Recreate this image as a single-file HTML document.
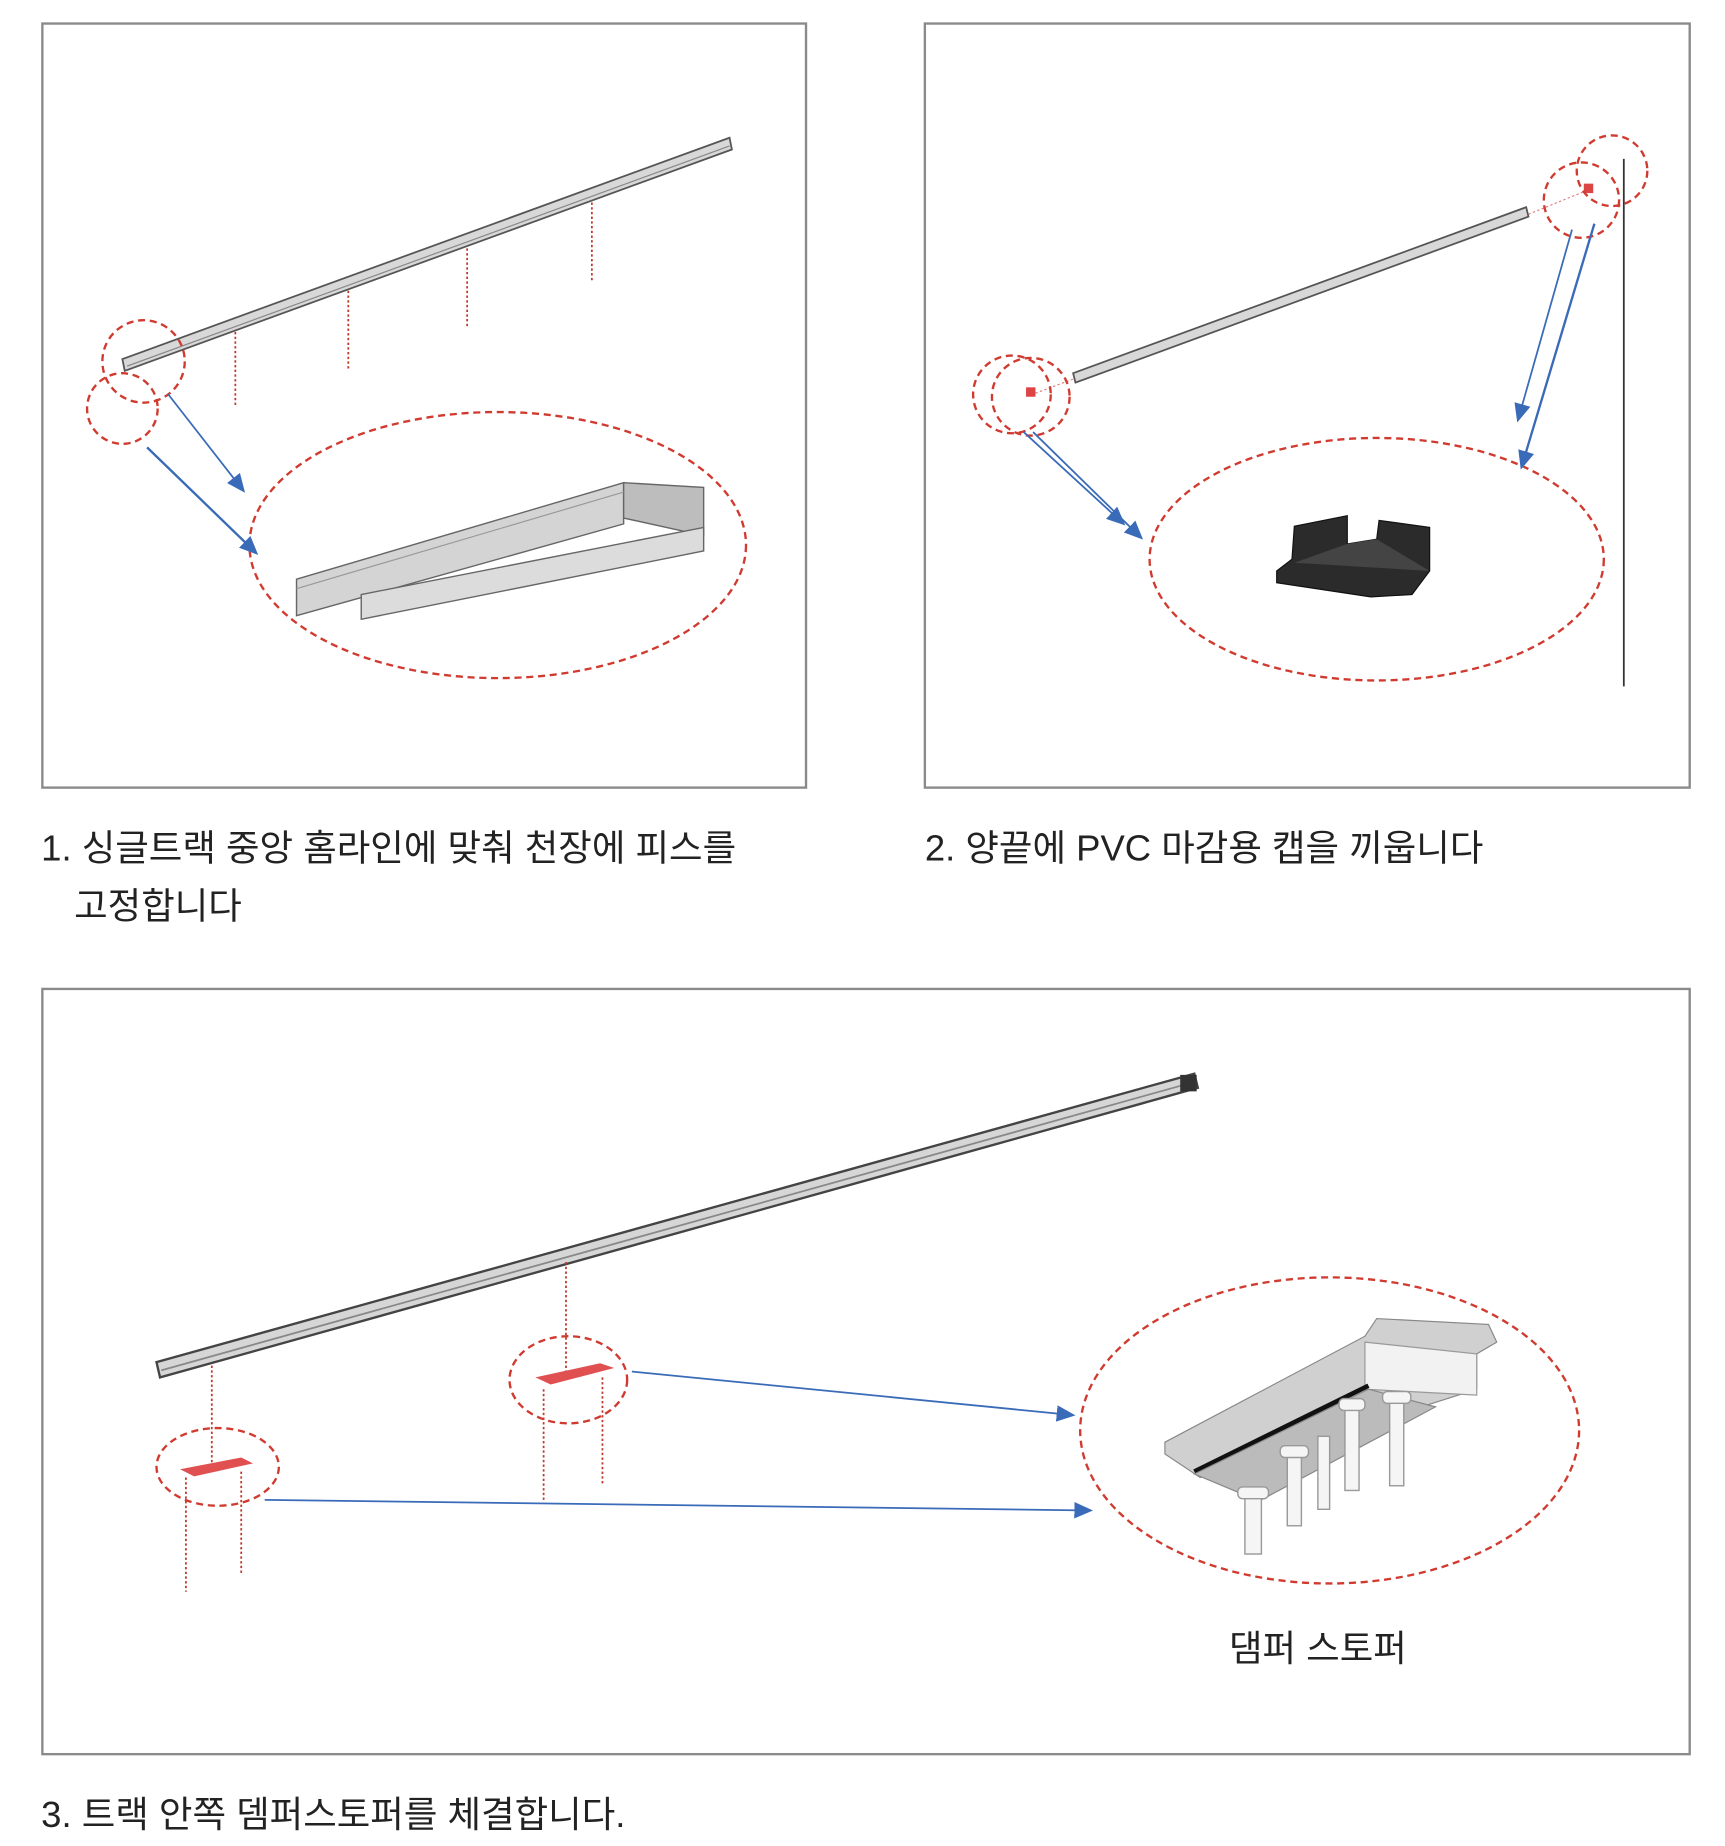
<!DOCTYPE html>
<html><head><meta charset="utf-8"><style>
html,body{margin:0;padding:0;background:#fff;}
svg{display:block;}
text{font-family:"Liberation Sans","Noto Sans CJK KR",sans-serif;fill:#222;}
</style></head><body>
<svg width="1725" height="1846" viewBox="0 0 1466 1568" preserveAspectRatio="none" xmlns="http://www.w3.org/2000/svg">
<defs>
<marker id="ah" markerWidth="10" markerHeight="10" refX="8" refY="5" orient="auto" markerUnits="userSpaceOnUse"><path d="M0,0 L10,5 L0,10 z" fill="#3a6bb8"/></marker>
<marker id="ah2" markerWidth="16" markerHeight="14" refX="14" refY="7" orient="auto" markerUnits="userSpaceOnUse"><path d="M0,0 L16,7 L0,14 z" fill="#3a6bb8"/></marker>
</defs>
<!-- frames -->
<rect x="36" y="20" width="649" height="649" fill="none" stroke="#8a8a8a" stroke-width="2"/>
<rect x="786" y="20" width="650" height="649" fill="none" stroke="#8a8a8a" stroke-width="2"/>
<rect x="36" y="840" width="1400" height="650" fill="none" stroke="#8a8a8a" stroke-width="2"/>

<!-- panel 1 -->
<g stroke="#c0392b" stroke-width="1.5" stroke-dasharray="2,2" fill="none">
<line x1="200" y1="278" x2="200" y2="345"/><line x1="296" y1="243" x2="296" y2="313"/>
<line x1="397" y1="207" x2="397" y2="277"/><line x1="503" y1="168" x2="503" y2="240"/>
</g>
<polygon points="104,305 620,117 622,127 106,315" fill="#d8d8d8" stroke="#555" stroke-width="1.5"/>
<line x1="108" y1="311" x2="620" y2="124" stroke="#888" stroke-width="1"/>
<g fill="none" stroke="#d03a2f" stroke-width="2" stroke-dasharray="6,4">
<circle cx="122" cy="307" r="35"/><circle cx="104" cy="347" r="30"/>
<ellipse cx="423" cy="463" rx="211" ry="113"/>
</g>
<line x1="143" y1="335" x2="207" y2="417" stroke="#3a6bb8" stroke-width="1.5" marker-end="url(#ah2)"/>
<line x1="125" y1="380" x2="218" y2="470" stroke="#3a6bb8" stroke-width="2" marker-end="url(#ah2)"/>
<polygon points="252,492 530,410 530,445 252,523" fill="#d4d4d4" stroke="#666" stroke-width="1.2"/>
<polygon points="530,410 598,414 598,455 530,440" fill="#bdbdbd" stroke="#666" stroke-width="1.2"/>
<polygon points="307,505 598,448 598,468 307,526" fill="#dcdcdc" stroke="#666" stroke-width="1.2"/>
<line x1="252" y1="500" x2="530" y2="418" stroke="#999"/>

<!-- panel 2 -->
<polygon points="912,317 1297,176 1299,184 914,325" fill="#d8d8d8" stroke="#555" stroke-width="1.5"/>
<line x1="1380" y1="135" x2="1380" y2="583" stroke="#333" stroke-width="1.5"/>
<line x1="880" y1="334" x2="912" y2="322" stroke="#e08080" stroke-width="1" stroke-dasharray="2,2"/>
<line x1="1299" y1="182" x2="1348" y2="162" stroke="#e08080" stroke-width="1" stroke-dasharray="2,2"/>
<rect x="872" y="329" width="8" height="8" fill="#d44"/>
<rect x="1346" y="156" width="8" height="8" fill="#d44"/>
<g fill="none" stroke="#d03a2f" stroke-width="2" stroke-dasharray="6,4">
<circle cx="876" cy="337" r="33"/><circle cx="860" cy="335" r="33"/>
<circle cx="1344" cy="170" r="32"/><circle cx="1370" cy="145" r="30"/>
<ellipse cx="1170" cy="475" rx="193" ry="103"/>
</g>
<line x1="870" y1="367" x2="955" y2="445" stroke="#3a6bb8" stroke-width="1.5" marker-end="url(#ah2)"/>
<line x1="878" y1="367" x2="970" y2="457" stroke="#3a6bb8" stroke-width="1.5" marker-end="url(#ah2)"/>
<line x1="1336" y1="195" x2="1290" y2="357" stroke="#3a6bb8" stroke-width="1.5" marker-end="url(#ah2)"/>
<line x1="1355" y1="190" x2="1293" y2="397" stroke="#3a6bb8" stroke-width="2" marker-end="url(#ah2)"/>
<polygon points="1085,485 1098,475 1100,447 1145,438 1145,462 1170,458 1172,442 1215,448 1215,485 1200,505 1165,507 1085,495" fill="#2b2b2b" stroke="#111"/>
<polygon points="1100,478 1145,462 1170,458 1215,485" fill="#444"/>

<!-- panel 3 -->
<polygon points="133,1157 1015,912 1018,924 136,1170" fill="#d6d6d6" stroke="#444" stroke-width="2"/>
<line x1="137" y1="1164" x2="1015" y2="919" stroke="#888" stroke-width="1.5"/>
<rect x="1003" y="913" width="14" height="14" fill="#333"/>
<g stroke="#c0392b" stroke-width="1.5" stroke-dasharray="2,2" fill="none">
<line x1="481" y1="1072" x2="481" y2="1165"/><line x1="180" y1="1160" x2="180" y2="1245"/>
<line x1="462" y1="1180" x2="462" y2="1275"/><line x1="512" y1="1170" x2="512" y2="1262"/>
<line x1="158" y1="1255" x2="158" y2="1352"/><line x1="205" y1="1250" x2="205" y2="1338"/>
</g>
<polygon points="455,1170 510,1158 522,1162 468,1176" fill="#e05050"/>
<polygon points="153,1248 205,1238 215,1243 165,1254" fill="#e05050"/>
<g fill="none" stroke="#d03a2f" stroke-width="2" stroke-dasharray="6,4">
<ellipse cx="483" cy="1172" rx="50" ry="37"/><ellipse cx="185" cy="1246" rx="52" ry="33"/>
<ellipse cx="1130" cy="1215" rx="212" ry="130"/>
</g>
<line x1="537" y1="1165" x2="912" y2="1202" stroke="#3a6bb8" stroke-width="1.5" marker-end="url(#ah2)"/>
<line x1="225" y1="1274" x2="927" y2="1283" stroke="#3a6bb8" stroke-width="1.5" marker-end="url(#ah2)"/>
<!-- damper -->
<polygon points="990,1225 1160,1135 1170,1120 1265,1125 1272,1140 1255,1150 1255,1180 1020,1255 990,1235" fill="#d0d0d0" stroke="#888"/>
<polygon points="1160,1140 1255,1150 1255,1185 1160,1180" fill="#f2f2f2" stroke="#999"/>
<line x1="1015" y1="1250" x2="1163" y2="1177" stroke="#111" stroke-width="4"/>
<polygon points="1015,1252 1163,1180 1220,1195 1070,1275" fill="#bbb" stroke="#888"/>
<g fill="#f5f5f5" stroke="#999" stroke-width="1.2">
<rect x="1058" y="1270" width="14" height="50"/><rect x="1052" y="1263" width="26" height="10" rx="4"/>
<rect x="1094" y="1236" width="12" height="60"/><rect x="1088" y="1228" width="24" height="10" rx="4"/>
<rect x="1120" y="1220" width="10" height="62"/>
<rect x="1143" y="1196" width="12" height="70"/><rect x="1138" y="1188" width="22" height="10" rx="4"/>
<rect x="1181" y="1190" width="12" height="72"/><rect x="1175" y="1182" width="24" height="10" rx="4"/>
</g>

<!-- texts -->
<text x="35" y="731" font-size="31">1. 싱글트랙 중앙 홈라인에 맞춰 천장에 피스를</text>
<text x="63" y="780" font-size="31">고정합니다</text>
<text x="786" y="731" font-size="31">2. 양끝에 PVC 마감용 캡을 끼웁니다</text>
<text x="1120" y="1411" font-size="31" text-anchor="middle">댐퍼 스토퍼</text>
<text x="35" y="1552" font-size="31">3. 트랙 안쪽 뎀퍼스토퍼를 체결합니다.</text>
</svg>
</body></html>
